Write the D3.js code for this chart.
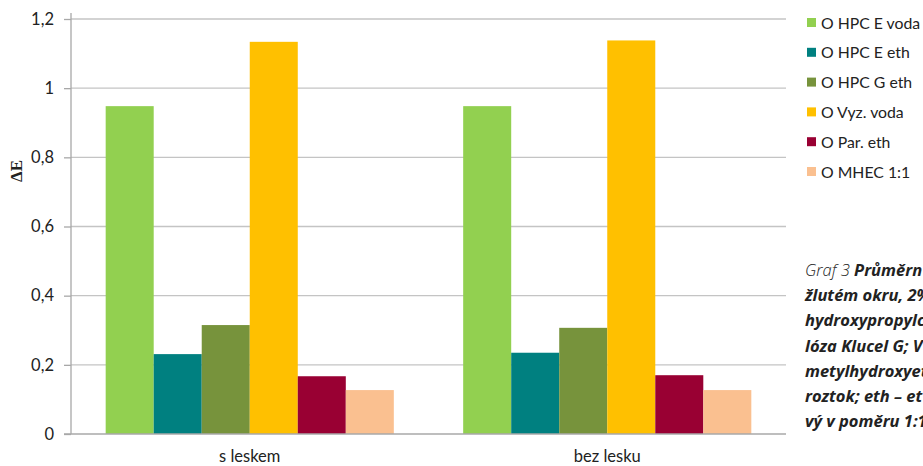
<!DOCTYPE html>
<html><head><meta charset="utf-8">
<script src="https://cdn.jsdelivr.net/npm/d3@7"></script>
<style>body{margin:0;background:#fff}svg{display:block}</style>
</head><body>
<svg id="c" width="923" height="466"></svg>
<script>
const categories = ["s leskem", "bez lesku"];
const seriesNames = ["O HPC E voda", "O HPC E eth", "O HPC G eth", "O Vyz. voda", "O Par. eth", "O MHEC 1:1"];
const seriesColors = ["#92d050", "#008080", "#77933c", "#ffc000", "#990033", "#fac090"];
const hpcEVoda = [0.948, 0.948];
const hpcEEth = [0.231, 0.235];
const hpcGEth = [0.315, 0.307];
const vyzVoda = [1.134, 1.138];
const parEth = [0.167, 0.170];
const mhec = [0.127, 0.127];
const yTicks = [0, 0.2, 0.4, 0.6, 0.8, 1, 1.2];
const tickLabels = ["0", "0,2", "0,4", "0,6", "0,8", "1", "1,2"];
const captionLines = ["Průměrn", "žlutém okru, 2%", "hydroxypropylc", "lóza Klucel G; V", "metylhydroxyet", "roztok; eth – et", "vý v poměru 1:1"];

(function () {
const values = [hpcEVoda, hpcEEth, hpcGEth, vyzVoda, parEth, mhec];
const svg = d3.select("#c");
const mLeft = 71, mRight = 786, mTop = 19, mBottom = 434;
const font = "Lato, 'Open Sans', sans-serif";

const y = d3.scaleLinear().domain([0, 1.2]).range([mBottom, mTop]);
const x0 = d3.scaleBand().domain(categories).range([mLeft, mRight]).paddingInner(0.194).paddingOuter(0.097);
const x1 = d3.scaleBand().domain(seriesNames).range([0, x0.bandwidth()]);

svg.append("g").selectAll("line").data(yTicks.filter(d => d > 0)).join("line")
  .attr("x1", mLeft).attr("x2", mRight)
  .attr("y1", d => y(d)).attr("y2", d => y(d))
  .attr("stroke", "#c4c4c4").attr("stroke-width", 1.3);

const g = svg.append("g");
seriesNames.forEach((s, i) => {
  g.append("g").selectAll("rect").data(categories).join("rect")
    .attr("x", c => x0(c) + x1(s))
    .attr("width", x1.bandwidth())
    .attr("y", (c, j) => y(values[i][j]))
    .attr("height", (c, j) => y(0) - y(values[i][j]))
    .attr("fill", seriesColors[i]);
});

const yAxis = d3.axisLeft(y).tickValues(yTicks).tickFormat((d, i) => tickLabels[i]).tickSize(7).tickPadding(10);
const ya = svg.append("g").attr("transform", `translate(${mLeft},0)`).call(yAxis);
ya.select(".domain").attr("stroke", "#a8a8a8").attr("stroke-width", 1.3).attr("d", `M0,${mTop - 6}V${mBottom}`);
ya.selectAll(".tick line").attr("stroke", "#a8a8a8").attr("stroke-width", 1.3);
ya.selectAll(".tick text").attr("font-family", font).attr("font-size", 16.5).attr("fill", "#222");

svg.append("line").attr("x1", mLeft - 7).attr("x2", mRight).attr("y1", mBottom).attr("y2", mBottom)
  .attr("stroke", "#a8a8a8").attr("stroke-width", 1.3);

svg.append("g").selectAll("text").data(categories).join("text")
  .attr("x", c => x0(c) + x0.bandwidth() / 2).attr("y", 462)
  .attr("text-anchor", "middle").attr("font-family", font).attr("font-size", 16.5).attr("fill", "#222")
  .text(c => c);

svg.append("text").attr("transform", "translate(22,171) rotate(-90)")
  .attr("text-anchor", "middle").attr("font-family", "'Liberation Serif', 'DejaVu Serif', serif")
  .attr("font-weight", "bold").attr("font-size", 17).attr("fill", "#222").text("ΔE");

const leg = svg.append("g");
seriesNames.forEach((s, i) => {
  const cy = 23 + i * 29.8;
  leg.append("rect").attr("x", 807).attr("y", cy - 5).attr("width", 9).attr("height", 9).attr("fill", seriesColors[i]);
  leg.append("text").attr("x", 821).attr("y", cy + 5.5).attr("font-family", font).attr("font-size", 15.8).attr("fill", "#222").text(s);
});

const cap = svg.append("g").attr("font-family", "'Open Sans', Lato, sans-serif").attr("font-size", 16.5).attr("fill", "#222").attr("font-style", "italic");
captionLines.forEach((line, i) => {
  const t = cap.append("text").attr("x", 805).attr("y", 276 + i * 25.2);
  if (i === 0) {
    t.append("tspan").attr("font-weight", "300").text("Graf 3 ");
    t.append("tspan").attr("font-weight", "bold").text(line);
  } else {
    t.attr("font-weight", "bold").text(line);
  }
});
})();
</script>
</body></html>
